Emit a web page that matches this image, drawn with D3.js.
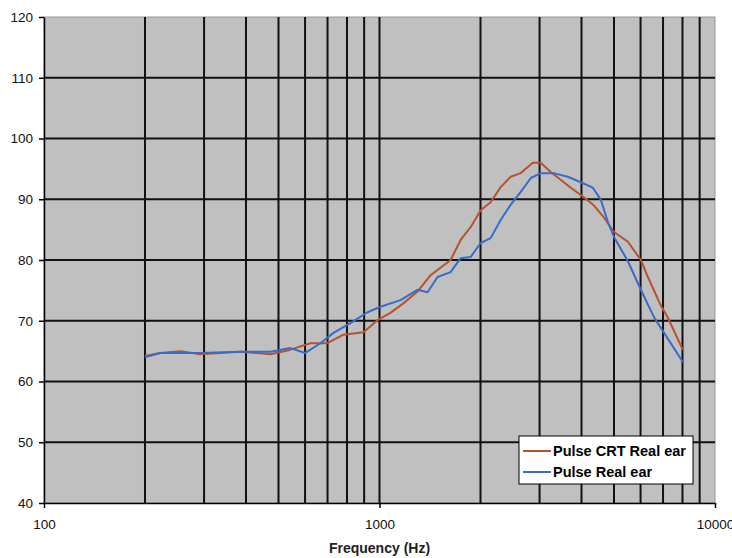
<!DOCTYPE html>
<html lang="en">
<head>
<meta charset="UTF-8">
<title>Pulse real ear</title>
<style>
  body { margin: 0; background: #fff; }
  text { font-family: "Liberation Sans", Arial, sans-serif; }
</style>
</head>
<body>
<svg id="svg" width="732" height="558"></svg>
<script src="https://d3js.org/d3.v7.min.js"></script>
<script>
// Pulse CRT Real ear (freq Hz, dB)
const crtFreq = [200, 222, 255, 292, 385, 473, 540, 622, 699, 781, 896, 986, 1078, 1180, 1298, 1420, 1629, 1745, 1869, 2002, 2144, 2297, 2461, 2636, 2767, 2864, 3025, 3238, 3467, 3716, 3981, 4353, 4665, 5000, 5500, 6012, 6310, 6897, 7238, 8020]
const crtDb = [64.2, 64.7, 65.0, 64.5, 64.9, 64.5, 65.2, 66.3, 66.3, 67.7, 68.1, 70.1, 71.3, 72.9, 74.8, 77.5, 80.0, 83.3, 85.4, 88.2, 89.5, 92.0, 93.7, 94.3, 95.3, 96.0, 96.0, 94.5, 93.2, 91.9, 90.7, 89.0, 87.0, 84.6, 83.0, 80.0, 77.2, 72.5, 70.5, 65.2]
// Pulse Real ear
const realFreq = [200, 222, 292, 385, 473, 506, 542, 601, 667, 729, 819, 921, 1007, 1155, 1254, 1298, 1391, 1490, 1629, 1745, 1869, 2002, 2144, 2297, 2461, 2636, 2825, 3025, 3306, 3640, 3981, 4324, 4570, 4797, 5000, 5500, 6012, 6577, 7050, 8020]
const realDb = [64.0, 64.7, 64.7, 64.9, 64.9, 65.2, 65.5, 64.7, 66.3, 68.0, 69.6, 71.4, 72.3, 73.4, 74.6, 75.1, 74.7, 77.2, 78.0, 80.3, 80.5, 82.8, 83.6, 86.6, 89.1, 91.2, 93.5, 94.3, 94.3, 93.7, 92.8, 91.9, 89.9, 86.2, 83.8, 79.8, 75.1, 70.6, 68.0, 63.2]

const yTicks = [40, 50, 60, 70, 80, 90, 100, 110, 120]
const xTicks = [100, 1000, 10000]
const xGrid = [200, 300, 400, 500, 600, 700, 800, 900, 1000, 2000, 3000, 4000, 5000, 6000, 7000, 8000, 9000]

const series = [
  { name: "Pulse CRT Real ear", color: "#b4532f", f: crtFreq, v: crtDb },
  { name: "Pulse Real ear", color: "#3a6cc6", f: realFreq, v: realDb }
]

const svg = d3.select("svg#svg")
const margin = { top: 17, right: 17, bottom: 55, left: 44 }
const width = +svg.attr("width")
const height = +svg.attr("height")
const innerWidth = width - margin.left - margin.right
const innerHeight = height - margin.top - margin.bottom

const xScale = d3.scaleLog().domain([100, 10000]).range([0, innerWidth])
const yScale = d3.scaleLinear().domain([40, 120]).range([innerHeight, 0])

const g = svg.append("g").attr("transform", `translate(${margin.left},${margin.top})`)

g.append("rect").attr("width", innerWidth).attr("height", innerHeight)
  .attr("fill", "#c0c0c0").attr("stroke", "#8f9aa3").attr("stroke-width", 1)

// grid
g.append("g").selectAll("line").data(yTicks.slice(1, -1)).join("line")
  .attr("x1", 0).attr("x2", innerWidth)
  .attr("y1", d => yScale(d)).attr("y2", d => yScale(d))
  .attr("stroke", "#111").attr("stroke-width", 2)
g.append("g").selectAll("line").data(xGrid).join("line")
  .attr("x1", d => xScale(d)).attr("x2", d => xScale(d))
  .attr("y1", 0).attr("y2", innerHeight)
  .attr("stroke", "#111").attr("stroke-width", 2)

// curves
const line = d3.line().x(d => xScale(d[0])).y(d => yScale(d[1]))
series.forEach(s => {
  g.append("path").datum(d3.zip(s.f, s.v))
    .attr("d", line).attr("fill", "none")
    .attr("stroke", s.color).attr("stroke-width", 2).attr("stroke-linejoin", "round")
})

// axes
const yAxis = d3.axisLeft(yScale).tickValues(yTicks).tickSize(5).tickPadding(6).tickSizeOuter(0)
const xAxis = d3.axisBottom(xScale).tickValues(xTicks).tickFormat(d3.format("d")).tickSize(5).tickPadding(11).tickSizeOuter(0)

const ya = g.append("g").call(yAxis)
const xa = g.append("g").attr("transform", `translate(0,${innerHeight})`).call(xAxis)
;[ya, xa].forEach(a => {
  a.selectAll("path, line").attr("stroke", "#000").attr("stroke-width", 1.5)
  a.selectAll("text").attr("fill", "#111").style("font-size", "13.5px")
})

g.append("text")
  .attr("x", innerWidth / 2).attr("y", innerHeight + 50)
  .attr("text-anchor", "middle")
  .style("font-size", "14px").style("font-weight", "bold").attr("fill", "#222")
  .text("Frequency (Hz)")

// legend
const lg = g.append("g").attr("transform", `translate(${519 - margin.left},${436 - margin.top})`)
lg.append("rect").attr("width", 174).attr("height", 48)
  .attr("fill", "#fff").attr("stroke", "#000").attr("stroke-width", 1)
series.forEach((s, i) => {
  const y = 15 + i * 21
  lg.append("line").attr("x1", 4).attr("x2", 32).attr("y1", y).attr("y2", y)
    .attr("stroke", s.color).attr("stroke-width", 2)
  lg.append("text").attr("x", 34).attr("y", y + 5)
    .style("font-size", "14.5px").style("font-weight", "bold").attr("fill", "#000")
    .text(s.name)
})
</script>
</body>
</html>
